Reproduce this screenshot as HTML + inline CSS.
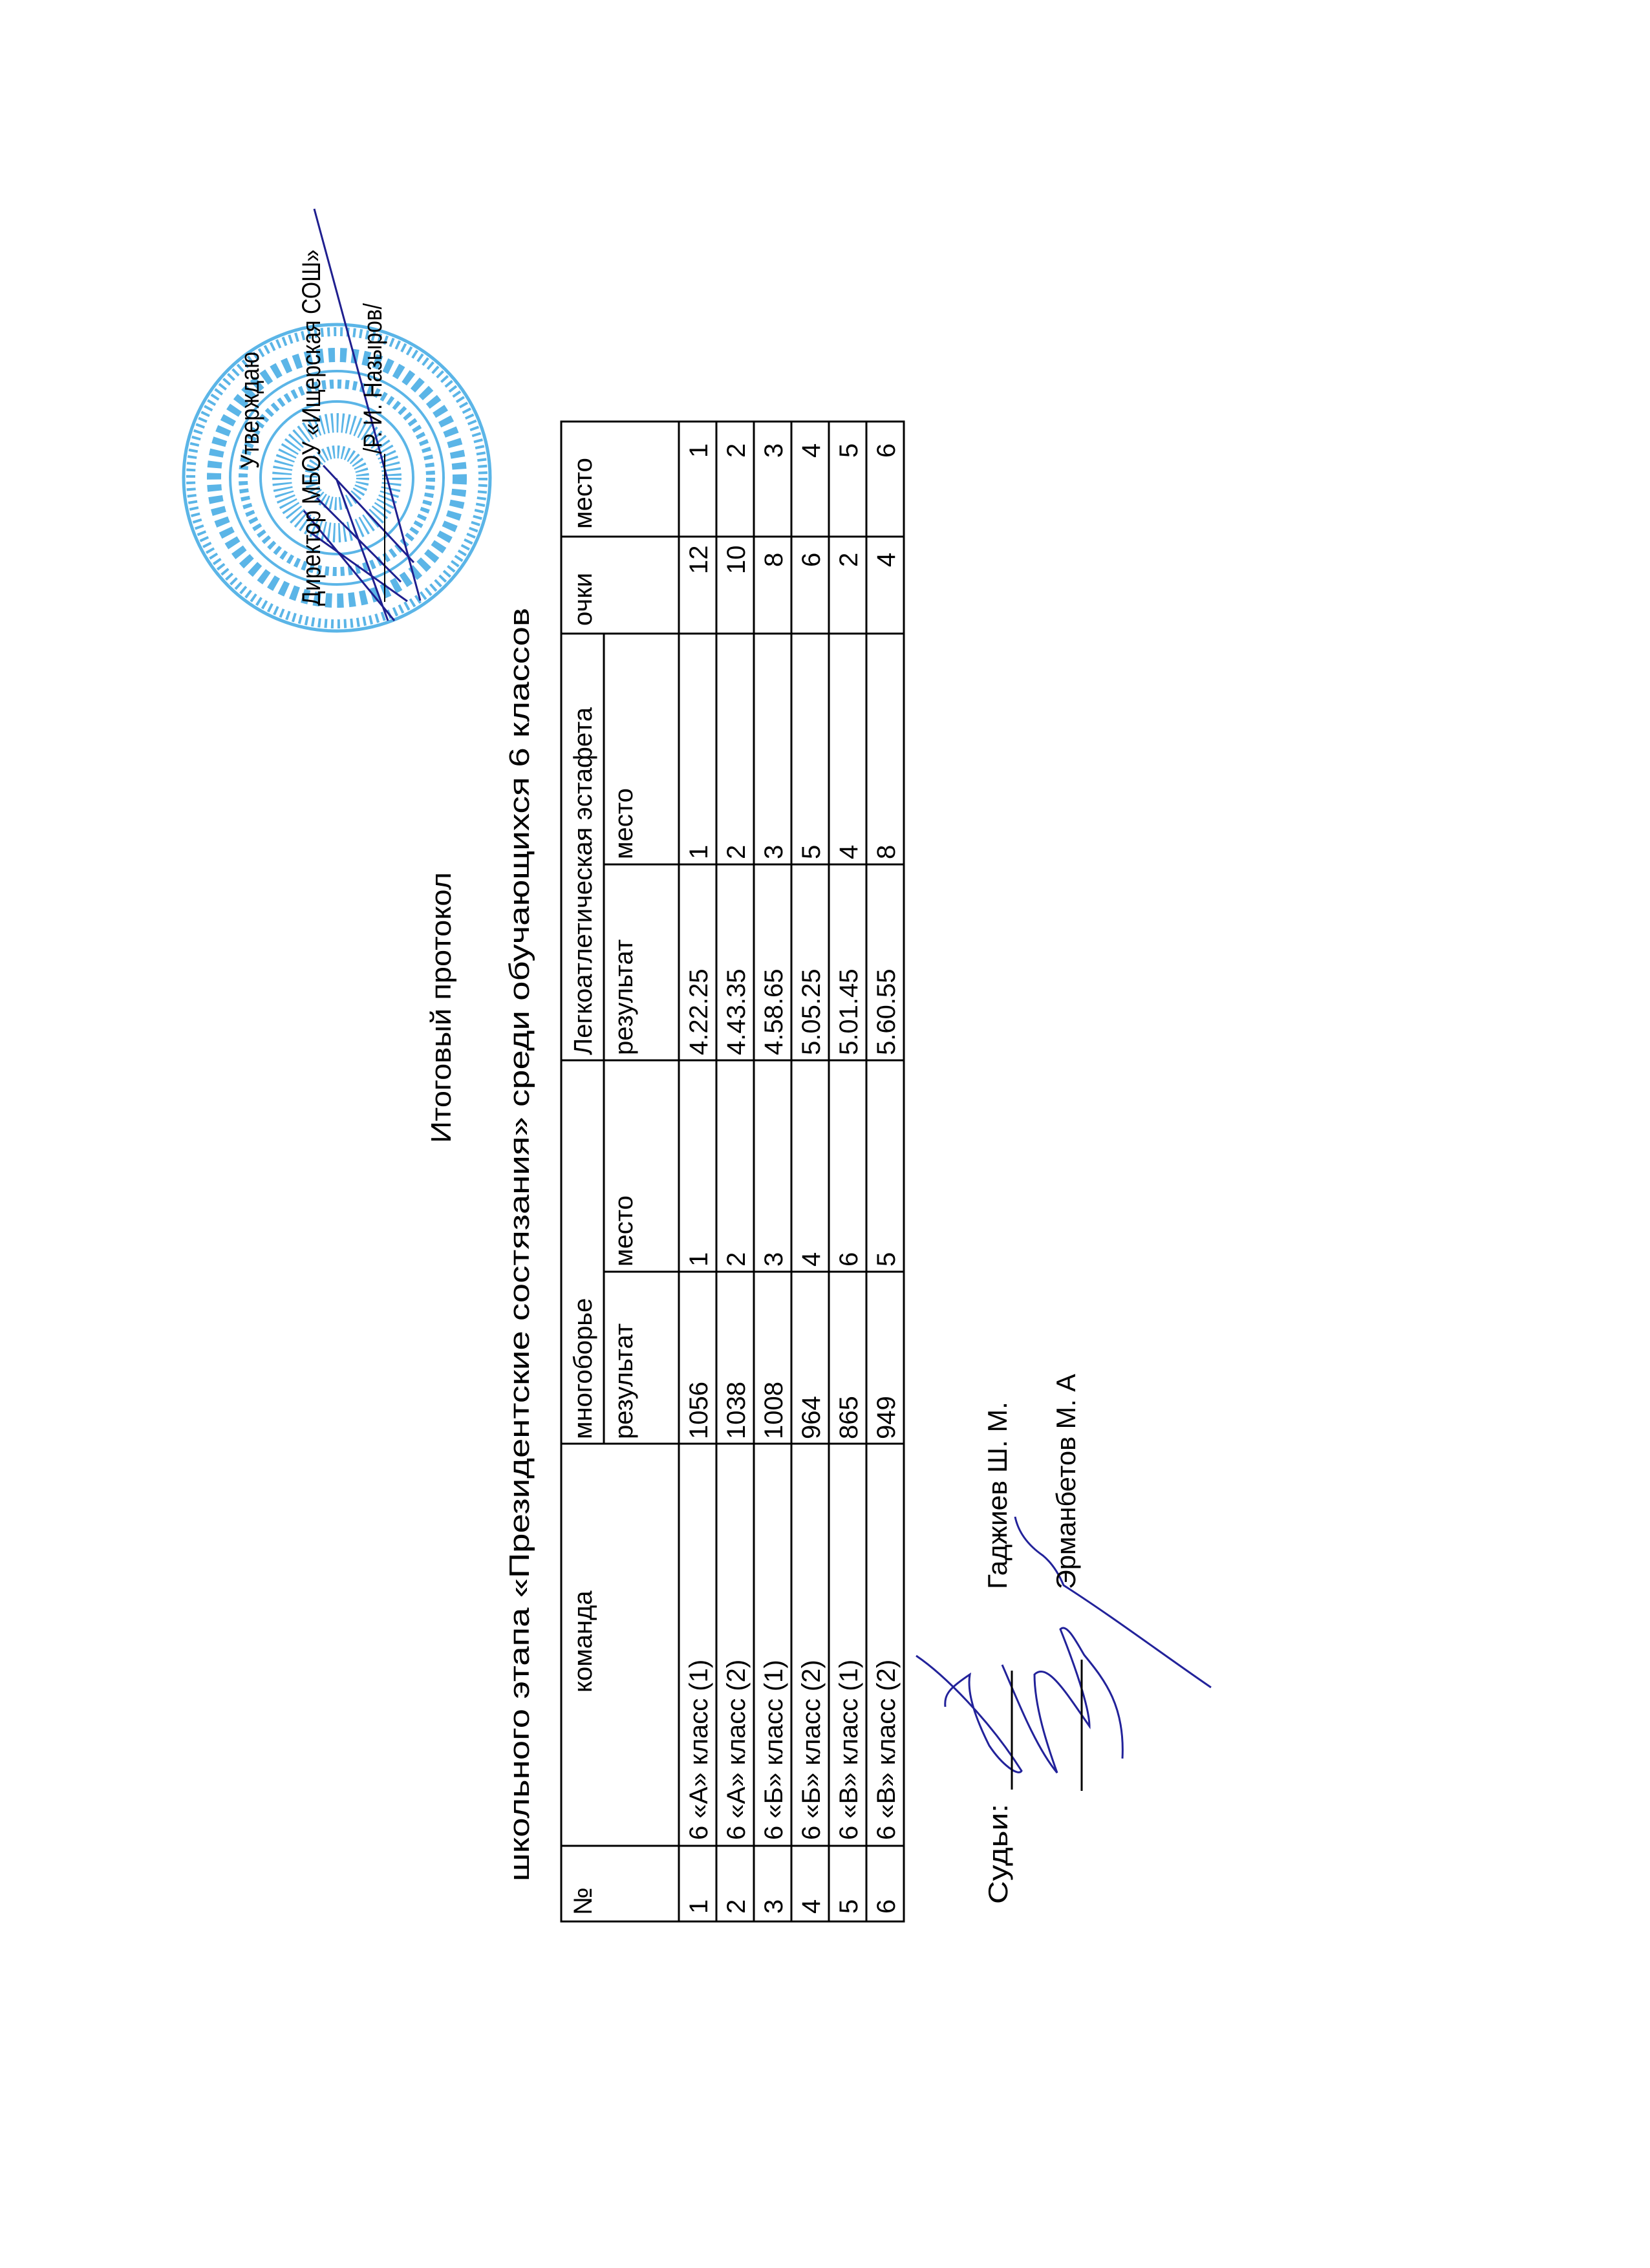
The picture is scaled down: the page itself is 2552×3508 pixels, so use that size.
<!DOCTYPE html>
<html><head><meta charset="utf-8"><style>
html,body{margin:0;padding:0;background:#fff}
svg{display:block}
text{font-family:"Liberation Sans",sans-serif;fill:#000}
</style></head><body>
<svg width="2552" height="3508" viewBox="0 0 2552 3508" xmlns="http://www.w3.org/2000/svg">
<rect width="2552" height="3508" fill="#fff"/>
<!-- stamp -->
<g fill="none" stroke="#3fa9e3" opacity="0.85">
<circle cx="521" cy="739" r="237" stroke-width="5"/>
<circle cx="521" cy="739" r="226" stroke-width="14" stroke-dasharray="4 6"/>
<circle cx="521" cy="739" r="190" stroke-width="22" stroke-dasharray="10 8"/>
<circle cx="521" cy="739" r="165" stroke-width="4"/>
<circle cx="521" cy="739" r="145" stroke-width="14" stroke-dasharray="6 6"/>
<circle cx="521" cy="739" r="118" stroke-width="4"/>
<circle cx="521" cy="739" r="85" stroke-width="30" stroke-dasharray="3 5"/>
<circle cx="521" cy="739" r="40" stroke-width="20" stroke-dasharray="3 4"/>
</g>
<!-- director signature -->
<g fill="none" stroke="#1f1f8f" stroke-width="3">
<path d="M486 323 L650 929"/>
<path d="M490 770 L620 900 M470 790 L610 960 M475 820 L630 930 M500 720 L640 870 M520 740 L600 960"/>
</g>
<!-- judges signatures -->
<g fill="none" stroke="#22229a" stroke-width="3">
<path d="M1417 2561 C1460 2590 1530 2660 1580 2739 C1575 2748 1550 2730 1530 2700 C1510 2660 1495 2620 1500 2590 C1470 2610 1460 2620 1462 2640"/>
<path d="M1550 2575 C1570 2620 1600 2700 1635 2742 C1620 2700 1600 2640 1600 2590 C1620 2570 1650 2620 1685 2670 C1685 2640 1660 2570 1640 2520 C1650 2510 1665 2540 1677 2560 C1710 2600 1740 2640 1736 2720"/>
<path d="M1570 2346 C1575 2370 1590 2390 1613 2406 C1630 2420 1640 2440 1645 2452 C1720 2500 1800 2560 1873 2610"/>
</g>
<g transform="translate(0,3508) rotate(-90)">
<!-- titles -->
<text x="1740" y="697" font-size="44" textLength="419" lengthAdjust="spacingAndGlyphs">Итоговый протокол</text>
<text x="598" y="818" font-size="44" textLength="1970" lengthAdjust="spacingAndGlyphs">школьного этапа «Президентские состязания» среди обучающихся 6 классов</text>
<!-- approval -->
<text x="2783" y="400" font-size="40" textLength="181" lengthAdjust="spacingAndGlyphs">Утверждаю</text>
<text x="2571" y="495" font-size="40" textLength="551" lengthAdjust="spacingAndGlyphs">Директор МБОУ «Ищерская СОШ»</text>
<line x1="2577" y1="595" x2="2806" y2="595" stroke="#000" stroke-width="2"/>
<text x="2806" y="590" font-size="40" textLength="233" lengthAdjust="spacingAndGlyphs">/Р. И. Назыров/</text>
<!-- table lines -->
<g stroke="#000" stroke-width="3" fill="none">
<rect x="536" y="868" width="2320" height="530"/>
<line x1="536" y1="1050" x2="2856" y2="1050"/>
<line x1="536" y1="1108" x2="2856" y2="1108"/>
<line x1="536" y1="1166" x2="2856" y2="1166"/>
<line x1="536" y1="1224" x2="2856" y2="1224"/>
<line x1="536" y1="1282" x2="2856" y2="1282"/>
<line x1="536" y1="1340" x2="2856" y2="1340"/>
<line x1="1275" y1="934" x2="2528" y2="934"/>
<line x1="653" y1="868" x2="653" y2="1398"/>
<line x1="1275" y1="868" x2="1275" y2="1398"/>
<line x1="1541" y1="934" x2="1541" y2="1398"/>
<line x1="1868" y1="868" x2="1868" y2="1398"/>
<line x1="2171" y1="934" x2="2171" y2="1398"/>
<line x1="2528" y1="868" x2="2528" y2="1398"/>
<line x1="2678" y1="868" x2="2678" y2="1398"/>
</g>
<g font-size="40">
<text x="546" y="915">№</text>
<text x="890" y="915">команда</text>
<text x="1282" y="915">многоборье</text>
<text x="1876" y="915">Легкоатлетическая  эстафета</text>
<text x="2540" y="915">очки</text>
<text x="2690" y="915">место</text>
<text x="1282" y="978">результат</text>
<text x="1549" y="978">место</text>
<text x="1876" y="978">результат</text>
<text x="2179" y="978">место</text>

<text x="548" y="1094">1</text><text x="662" y="1094">6 «А» класс (1)</text><text x="1282" y="1094">1056</text><text x="1549" y="1094">1</text><text x="1876" y="1094">4.22.25</text><text x="2179" y="1094">1</text><text x="2620" y="1094">12</text><text x="2800" y="1094">1</text>
<text x="548" y="1152">2</text><text x="662" y="1152">6 «А» класс (2)</text><text x="1282" y="1152">1038</text><text x="1549" y="1152">2</text><text x="1876" y="1152">4.43.35</text><text x="2179" y="1152">2</text><text x="2620" y="1152">10</text><text x="2800" y="1152">2</text>
<text x="548" y="1210">3</text><text x="662" y="1210">6 «Б» класс (1)</text><text x="1282" y="1210">1008</text><text x="1549" y="1210">3</text><text x="1876" y="1210">4.58.65</text><text x="2179" y="1210">3</text><text x="2631" y="1210">8</text><text x="2800" y="1210">3</text>
<text x="548" y="1268">4</text><text x="662" y="1268">6 «Б» класс (2)</text><text x="1282" y="1268">964</text><text x="1549" y="1268">4</text><text x="1876" y="1268">5.05.25</text><text x="2179" y="1268">5</text><text x="2631" y="1268">6</text><text x="2800" y="1268">4</text>
<text x="548" y="1326">5</text><text x="662" y="1326">6 «В» класс (1)</text><text x="1282" y="1326">865</text><text x="1549" y="1326">6</text><text x="1876" y="1326">5.01.45</text><text x="2179" y="1326">4</text><text x="2631" y="1326">2</text><text x="2800" y="1326">5</text>
<text x="548" y="1384">6</text><text x="662" y="1384">6 «В» класс (2)</text><text x="1282" y="1384">949</text><text x="1549" y="1384">5</text><text x="1876" y="1384">5.60.55</text><text x="2179" y="1384">8</text><text x="2631" y="1384">4</text><text x="2800" y="1384">6</text>
</g>
<!-- judges -->
<text x="563" y="1558" font-size="42" textLength="155" lengthAdjust="spacingAndGlyphs">Судьи:</text>
<line x1="740" y1="1565" x2="924" y2="1565" stroke="#000" stroke-width="3"/>
<text x="1050" y="1557" font-size="42" textLength="290" lengthAdjust="spacingAndGlyphs">Гаджиев Ш. М.</text>
<line x1="738" y1="1673" x2="941" y2="1673" stroke="#000" stroke-width="3"/>
<text x="1050" y="1663" font-size="42" textLength="333" lengthAdjust="spacingAndGlyphs">Эрманбетов М. А</text>
</g>
</svg>
</body></html>
